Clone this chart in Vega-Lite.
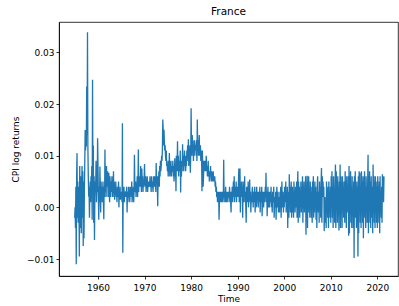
{
"$schema":"https://vega.github.io/schema/vega-lite/v6.json",
"width":339,"height":254,
"autosize":{"type":"none"},
"padding":{"left":59,"top":22,"right":1,"bottom":30},
"title":{"text":"France","fontSize":10.5,"fontWeight":"normal","font":"DejaVu Sans","color":"#000","offset":5,"anchor":"middle"},
"config":{"view":{"stroke":"#000","strokeWidth":0.8},"font":"DejaVu Sans"},
"data":{"values":[
{"t":1955,"v":-0.002},{"t":1955.08,"v":0.000},{"t":1955.17,"v":-0.004},{"t":1955.25,"v":0.004},{"t":1955.33,"v":-0.011},{"t":1955.42,"v":0.006},{"t":1955.5,"v":0.0105},{"t":1955.58,"v":-0.002},{"t":1955.67,"v":0.005},{"t":1955.75,"v":-0.003},{"t":1955.83,"v":0.004},{"t":1955.92,"v":0.001},
{"t":1956,"v":-0.0095},{"t":1956.08,"v":0.008},{"t":1956.17,"v":-0.004},{"t":1956.25,"v":0.006},{"t":1956.33,"v":0.003},{"t":1956.42,"v":-0.005},{"t":1956.5,"v":0.004},{"t":1956.58,"v":0.008},{"t":1956.67,"v":-0.002},{"t":1956.75,"v":0.007},{"t":1956.83,"v":-0.0075},{"t":1956.92,"v":0.005},
{"t":1957,"v":-0.006},{"t":1957.08,"v":0.003},{"t":1957.17,"v":0.009},{"t":1957.25,"v":0.015},{"t":1957.33,"v":0.011},{"t":1957.42,"v":0.013},{"t":1957.5,"v":0.0118},{"t":1957.58,"v":0.0234},{"t":1957.67,"v":0.014},{"t":1957.75,"v":0.0339},{"t":1957.83,"v":0.012},{"t":1957.92,"v":0.006},
{"t":1958,"v":0.0021},{"t":1958.08,"v":0.004},{"t":1958.17,"v":-0.002},{"t":1958.25,"v":0.003},{"t":1958.33,"v":0.005},{"t":1958.42,"v":0.001},{"t":1958.5,"v":0.006},{"t":1958.58,"v":0.002},{"t":1958.67,"v":0.008},{"t":1958.75,"v":-0.0024},{"t":1958.83,"v":0.0247},{"t":1958.92,"v":0.004},
{"t":1959,"v":0.012},{"t":1959.08,"v":-0.003},{"t":1959.17,"v":0.006},{"t":1959.25,"v":-0.0063},{"t":1959.33,"v":0.002},{"t":1959.42,"v":0.005},{"t":1959.5,"v":0.003},{"t":1959.58,"v":0.009},{"t":1959.67,"v":0.001},{"t":1959.75,"v":0.004},{"t":1959.83,"v":0.003},{"t":1959.92,"v":0.0134},
{"t":1960,"v":0.0084},{"t":1960.08,"v":0.002},{"t":1960.17,"v":-0.0024},{"t":1960.25,"v":0.004},{"t":1960.33,"v":0.001},{"t":1960.42,"v":0.0079},{"t":1960.5,"v":0.003},{"t":1960.58,"v":-0.001},{"t":1960.67,"v":0.005},{"t":1960.75,"v":0.002},{"t":1960.83,"v":0.004},{"t":1960.92,"v":0.001},
{"t":1961,"v":0.003},{"t":1961.08,"v":0.005},{"t":1961.17,"v":0.001},{"t":1961.25,"v":-0.0023},{"t":1961.33,"v":0.004},{"t":1961.42,"v":0.002},{"t":1961.5,"v":0.0112},{"t":1961.58,"v":0.003},{"t":1961.67,"v":0.006},{"t":1961.75,"v":0.002},{"t":1961.83,"v":0.008},{"t":1961.92,"v":0.004},
{"t":1962,"v":0.005},{"t":1962.08,"v":0.007},{"t":1962.17,"v":0.002},{"t":1962.25,"v":0.004},{"t":1962.33,"v":0.0067},{"t":1962.42,"v":0.003},{"t":1962.5,"v":0.001},{"t":1962.58,"v":0.006},{"t":1962.67,"v":0.002},{"t":1962.75,"v":0.005},{"t":1962.83,"v":0.003},{"t":1962.92,"v":0.004},
{"t":1963,"v":0.006},{"t":1963.08,"v":0.002},{"t":1963.17,"v":0.004},{"t":1963.25,"v":0.003},{"t":1963.33,"v":0.007},{"t":1963.42,"v":0.002},{"t":1963.5,"v":0.005},{"t":1963.58,"v":0.0015},{"t":1963.67,"v":0.004},{"t":1963.75,"v":0.003},{"t":1963.83,"v":0.005},{"t":1963.92,"v":0.002},
{"t":1964,"v":0.003},{"t":1964.08,"v":0.001},{"t":1964.17,"v":0.004},{"t":1964.25,"v":0.002},{"t":1964.33,"v":0.003},{"t":1964.42,"v":0.005},{"t":1964.5,"v":0.0},{"t":1964.58,"v":0.003},{"t":1964.67,"v":0.002},{"t":1964.75,"v":0.004},{"t":1964.83,"v":0.0015},{"t":1964.92,"v":0.003},
{"t":1965,"v":0.002},{"t":1965.08,"v":0.003},{"t":1965.17,"v":0.001},{"t":1965.25,"v":0.0163},{"t":1965.33,"v":-0.0088},{"t":1965.42,"v":0.003},{"t":1965.5,"v":0.002},{"t":1965.58,"v":0.004},{"t":1965.67,"v":0.001},{"t":1965.75,"v":0.003},{"t":1965.83,"v":0.002},{"t":1965.92,"v":0.003},
{"t":1966,"v":0.003},{"t":1966.08,"v":0.002},{"t":1966.17,"v":0.004},{"t":1966.25,"v":-0.001},{"t":1966.33,"v":0.003},{"t":1966.42,"v":0.001},{"t":1966.5,"v":0.002},{"t":1966.58,"v":0.004},{"t":1966.67,"v":0.002},{"t":1966.75,"v":0.003},{"t":1966.83,"v":0.001},{"t":1966.92,"v":0.004},
{"t":1967,"v":0.003},{"t":1967.08,"v":0.004},{"t":1967.17,"v":0.002},{"t":1967.25,"v":0.005},{"t":1967.33,"v":0.001},{"t":1967.42,"v":0.003},{"t":1967.5,"v":0.002},{"t":1967.58,"v":0.004},{"t":1967.67,"v":0.001},{"t":1967.75,"v":0.003},{"t":1967.83,"v":0.0102},{"t":1967.92,"v":0.004},
{"t":1968,"v":0.003},{"t":1968.08,"v":0.005},{"t":1968.17,"v":0.002},{"t":1968.25,"v":0.004},{"t":1968.33,"v":0.003},{"t":1968.42,"v":0.006},{"t":1968.5,"v":0.002},{"t":1968.58,"v":0.004},{"t":1968.67,"v":0.0112},{"t":1968.75,"v":0.003},{"t":1968.83,"v":0.006},{"t":1968.92,"v":0.004},
{"t":1969,"v":0.006},{"t":1969.08,"v":0.004},{"t":1969.17,"v":0.008},{"t":1969.25,"v":0.005},{"t":1969.33,"v":0.003},{"t":1969.42,"v":0.0075},{"t":1969.5,"v":0.004},{"t":1969.58,"v":0.006},{"t":1969.67,"v":0.003},{"t":1969.75,"v":0.005},{"t":1969.83,"v":0.004},{"t":1969.92,"v":0.006},
{"t":1970,"v":0.0084},{"t":1970.08,"v":0.005},{"t":1970.17,"v":0.004},{"t":1970.25,"v":0.006},{"t":1970.33,"v":0.003},{"t":1970.42,"v":0.005},{"t":1970.5,"v":0.004},{"t":1970.58,"v":0.006},{"t":1970.67,"v":0.003},{"t":1970.75,"v":0.005},{"t":1970.83,"v":0.004},{"t":1970.92,"v":0.004},
{"t":1971,"v":0.005},{"t":1971.08,"v":0.004},{"t":1971.17,"v":0.006},{"t":1971.25,"v":0.004},{"t":1971.33,"v":0.005},{"t":1971.42,"v":0.003},{"t":1971.5,"v":0.006},{"t":1971.58,"v":0.004},{"t":1971.67,"v":0.005},{"t":1971.75,"v":0.004},{"t":1971.83,"v":0.003},{"t":1971.92,"v":0.006},
{"t":1972,"v":0.004},{"t":1972.08,"v":0.005},{"t":1972.17,"v":0.006},{"t":1972.25,"v":0.004},{"t":1972.33,"v":0.005},{"t":1972.42,"v":0.003},{"t":1972.5,"v":0.0086},{"t":1972.58,"v":0.005},{"t":1972.67,"v":0.006},{"t":1972.75,"v":0.004},{"t":1972.83,"v":0.0002},{"t":1972.92,"v":0.006},
{"t":1973,"v":0.005},{"t":1973.08,"v":0.007},{"t":1973.17,"v":0.004},{"t":1973.25,"v":0.008},{"t":1973.33,"v":0.006},{"t":1973.42,"v":0.009},{"t":1973.5,"v":0.007},{"t":1973.58,"v":0.008},{"t":1973.67,"v":0.010},{"t":1973.75,"v":0.009},{"t":1973.83,"v":0.011},{"t":1973.92,"v":0.017},
{"t":1974,"v":0.015},{"t":1974.08,"v":0.012},{"t":1974.17,"v":0.015},{"t":1974.25,"v":0.013},{"t":1974.33,"v":0.011},{"t":1974.42,"v":0.012},{"t":1974.5,"v":0.010},{"t":1974.58,"v":0.009},{"t":1974.67,"v":0.011},{"t":1974.75,"v":0.008},{"t":1974.83,"v":0.009},{"t":1974.92,"v":0.007},
{"t":1975,"v":0.008},{"t":1975.08,"v":0.006},{"t":1975.17,"v":0.009},{"t":1975.25,"v":0.007},{"t":1975.33,"v":0.0105},{"t":1975.42,"v":0.006},{"t":1975.5,"v":0.008},{"t":1975.58,"v":0.007},{"t":1975.67,"v":0.009},{"t":1975.75,"v":0.006},{"t":1975.83,"v":0.008},{"t":1975.92,"v":0.007},
{"t":1976,"v":0.007},{"t":1976.08,"v":0.009},{"t":1976.17,"v":0.006},{"t":1976.25,"v":0.008},{"t":1976.33,"v":0.005},{"t":1976.42,"v":0.007},{"t":1976.5,"v":0.0095},{"t":1976.58,"v":0.006},{"t":1976.67,"v":0.008},{"t":1976.75,"v":0.0031},{"t":1976.83,"v":0.010},{"t":1976.92,"v":0.007},
{"t":1977,"v":0.008},{"t":1977.08,"v":0.0128},{"t":1977.17,"v":0.007},{"t":1977.25,"v":0.010},{"t":1977.33,"v":0.006},{"t":1977.42,"v":0.009},{"t":1977.5,"v":0.007},{"t":1977.58,"v":0.008},{"t":1977.67,"v":0.011},{"t":1977.75,"v":0.0029},{"t":1977.83,"v":0.009},{"t":1977.92,"v":0.006},
{"t":1978,"v":0.009},{"t":1978.08,"v":0.007},{"t":1978.17,"v":0.0122},{"t":1978.25,"v":0.008},{"t":1978.33,"v":0.010},{"t":1978.42,"v":0.007},{"t":1978.5,"v":0.009},{"t":1978.58,"v":0.011},{"t":1978.67,"v":0.008},{"t":1978.75,"v":0.010},{"t":1978.83,"v":0.007},{"t":1978.92,"v":0.009},
{"t":1979,"v":0.008},{"t":1979.08,"v":0.011},{"t":1979.17,"v":0.009},{"t":1979.25,"v":0.012},{"t":1979.33,"v":0.010},{"t":1979.42,"v":0.0132},{"t":1979.5,"v":0.008},{"t":1979.58,"v":0.011},{"t":1979.67,"v":0.009},{"t":1979.75,"v":0.012},{"t":1979.83,"v":0.0067},{"t":1979.92,"v":0.010},
{"t":1980,"v":0.0192},{"t":1980.08,"v":0.012},{"t":1980.17,"v":0.010},{"t":1980.25,"v":0.014},{"t":1980.33,"v":0.011},{"t":1980.42,"v":0.013},{"t":1980.5,"v":0.009},{"t":1980.58,"v":0.012},{"t":1980.67,"v":0.010},{"t":1980.75,"v":0.013},{"t":1980.83,"v":0.011},{"t":1980.92,"v":0.012},
{"t":1981,"v":0.012},{"t":1981.08,"v":0.010},{"t":1981.17,"v":0.013},{"t":1981.25,"v":0.009},{"t":1981.33,"v":0.017},{"t":1981.42,"v":0.011},{"t":1981.5,"v":0.013},{"t":1981.58,"v":0.010},{"t":1981.67,"v":0.012},{"t":1981.75,"v":0.014},{"t":1981.83,"v":0.010},{"t":1981.92,"v":0.011},
{"t":1982,"v":0.012},{"t":1982.08,"v":0.009},{"t":1982.17,"v":0.011},{"t":1982.25,"v":0.010},{"t":1982.33,"v":0.0031},{"t":1982.42,"v":0.011},{"t":1982.5,"v":0.008},{"t":1982.58,"v":0.004},{"t":1982.67,"v":0.006},{"t":1982.75,"v":0.009},{"t":1982.83,"v":0.007},{"t":1982.92,"v":0.008},
{"t":1983,"v":0.009},{"t":1983.08,"v":0.007},{"t":1983.17,"v":0.008},{"t":1983.25,"v":0.010},{"t":1983.33,"v":0.007},{"t":1983.42,"v":0.008},{"t":1983.5,"v":0.006},{"t":1983.58,"v":0.007},{"t":1983.67,"v":0.009},{"t":1983.75,"v":0.006},{"t":1983.83,"v":0.007},{"t":1983.92,"v":0.005},
{"t":1984,"v":0.007},{"t":1984.08,"v":0.006},{"t":1984.17,"v":0.008},{"t":1984.25,"v":0.006},{"t":1984.33,"v":0.005},{"t":1984.42,"v":0.007},{"t":1984.5,"v":0.006},{"t":1984.58,"v":0.005},{"t":1984.67,"v":0.006},{"t":1984.75,"v":0.007},{"t":1984.83,"v":0.005},{"t":1984.92,"v":0.006},
{"t":1985,"v":0.005},{"t":1985.08,"v":0.006},{"t":1985.17,"v":0.004},{"t":1985.25,"v":0.005},{"t":1985.33,"v":0.003},{"t":1985.42,"v":0.004},{"t":1985.5,"v":0.002},{"t":1985.58,"v":0.003},{"t":1985.67,"v":0.001},{"t":1985.75,"v":0.003},{"t":1985.83,"v":0.002},{"t":1985.92,"v":0.003},
{"t":1986,"v":-0.0024},{"t":1986.08,"v":0.001},{"t":1986.17,"v":0.003},{"t":1986.25,"v":0.002},{"t":1986.33,"v":0.001},{"t":1986.42,"v":0.003},{"t":1986.5,"v":0.002},{"t":1986.58,"v":0.001},{"t":1986.67,"v":0.003},{"t":1986.75,"v":0.002},{"t":1986.83,"v":0.001},{"t":1986.92,"v":0.002},
{"t":1987,"v":0.0092},{"t":1987.08,"v":0.002},{"t":1987.17,"v":0.003},{"t":1987.25,"v":0.001},{"t":1987.33,"v":0.002},{"t":1987.42,"v":0.004},{"t":1987.5,"v":0.001},{"t":1987.58,"v":0.003},{"t":1987.67,"v":0.002},{"t":1987.75,"v":0.001},{"t":1987.83,"v":0.003},{"t":1987.92,"v":0.002},
{"t":1988,"v":0.002},{"t":1988.08,"v":0.003},{"t":1988.17,"v":0.001},{"t":1988.25,"v":0.004},{"t":1988.33,"v":0.002},{"t":1988.42,"v":0.003},{"t":1988.5,"v":0.001},{"t":1988.58,"v":-0.001},{"t":1988.67,"v":0.003},{"t":1988.75,"v":0.002},{"t":1988.83,"v":0.004},{"t":1988.92,"v":0.001},
{"t":1989,"v":0.003},{"t":1989.08,"v":0.005},{"t":1989.17,"v":0.002},{"t":1989.25,"v":0.006},{"t":1989.33,"v":0.001},{"t":1989.42,"v":0.004},{"t":1989.5,"v":0.003},{"t":1989.58,"v":0.002},{"t":1989.67,"v":0.005},{"t":1989.75,"v":0.001},{"t":1989.83,"v":0.004},{"t":1989.92,"v":0.003},
{"t":1990,"v":0.004},{"t":1990.08,"v":0.002},{"t":1990.17,"v":0.005},{"t":1990.25,"v":0.0075},{"t":1990.33,"v":0.001},{"t":1990.42,"v":0.003},{"t":1990.5,"v":0.0075},{"t":1990.58,"v":-0.001},{"t":1990.67,"v":0.004},{"t":1990.75,"v":0.002},{"t":1990.83,"v":0.005},{"t":1990.92,"v":0.002},
{"t":1991,"v":0.003},{"t":1991.08,"v":-0.002},{"t":1991.17,"v":0.005},{"t":1991.25,"v":0.001},{"t":1991.33,"v":0.004},{"t":1991.42,"v":0.002},{"t":1991.5,"v":0.006},{"t":1991.58,"v":0.001},{"t":1991.67,"v":0.003},{"t":1991.75,"v":0.0},{"t":1991.83,"v":-0.003},{"t":1991.92,"v":0.004},
{"t":1992,"v":0.002},{"t":1992.08,"v":0.004},{"t":1992.17,"v":0.001},{"t":1992.25,"v":0.005},{"t":1992.33,"v":0.0},{"t":1992.42,"v":0.003},{"t":1992.5,"v":0.002},{"t":1992.58,"v":0.0054},{"t":1992.67,"v":0.001},{"t":1992.75,"v":0.003},{"t":1992.83,"v":-0.001},{"t":1992.92,"v":0.002},
{"t":1993,"v":0.001},{"t":1993.08,"v":0.003},{"t":1993.17,"v":0.004},{"t":1993.25,"v":0.002},{"t":1993.33,"v":0.0},{"t":1993.42,"v":0.003},{"t":1993.5,"v":0.001},{"t":1993.58,"v":0.002},{"t":1993.67,"v":0.004},{"t":1993.75,"v":-0.001},{"t":1993.83,"v":0.002},{"t":1993.92,"v":0.003},
{"t":1994,"v":0.0},{"t":1994.08,"v":0.004},{"t":1994.17,"v":0.002},{"t":1994.25,"v":0.003},{"t":1994.33,"v":0.001},{"t":1994.42,"v":0.0},{"t":1994.5,"v":0.003},{"t":1994.58,"v":0.002},{"t":1994.67,"v":0.001},{"t":1994.75,"v":0.004},{"t":1994.83,"v":-0.001},{"t":1994.92,"v":0.002},
{"t":1995,"v":0.003},{"t":1995.08,"v":0.001},{"t":1995.17,"v":0.004},{"t":1995.25,"v":-0.0017},{"t":1995.33,"v":0.002},{"t":1995.42,"v":0.003},{"t":1995.5,"v":0.001},{"t":1995.58,"v":0.0},{"t":1995.67,"v":0.003},{"t":1995.75,"v":0.002},{"t":1995.83,"v":0.001},{"t":1995.92,"v":0.004},
{"t":1996,"v":0.002},{"t":1996.08,"v":0.0067},{"t":1996.17,"v":0.001},{"t":1996.25,"v":0.003},{"t":1996.33,"v":-0.0017},{"t":1996.42,"v":0.002},{"t":1996.5,"v":0.004},{"t":1996.58,"v":0.0},{"t":1996.67,"v":0.001},{"t":1996.75,"v":0.003},{"t":1996.83,"v":0.0},{"t":1996.92,"v":0.002},
{"t":1997,"v":0.003},{"t":1997.08,"v":0.001},{"t":1997.17,"v":0.004},{"t":1997.25,"v":0.0},{"t":1997.33,"v":0.002},{"t":1997.42,"v":-0.001},{"t":1997.5,"v":0.003},{"t":1997.58,"v":0.001},{"t":1997.67,"v":0.002},{"t":1997.75,"v":0.004},{"t":1997.83,"v":-0.002},{"t":1997.92,"v":0.001},
{"t":1998,"v":0.002},{"t":1998.08,"v":0.0},{"t":1998.17,"v":0.003},{"t":1998.25,"v":-0.0024},{"t":1998.33,"v":0.002},{"t":1998.42,"v":0.004},{"t":1998.5,"v":0.0},{"t":1998.58,"v":0.001},{"t":1998.67,"v":0.003},{"t":1998.75,"v":-0.001},{"t":1998.83,"v":0.002},{"t":1998.92,"v":0.001},
{"t":1999,"v":-0.001},{"t":1999.08,"v":0.003},{"t":1999.17,"v":0.001},{"t":1999.25,"v":0.004},{"t":1999.33,"v":-0.002},{"t":1999.42,"v":0.002},{"t":1999.5,"v":0.005},{"t":1999.58,"v":0.0},{"t":1999.67,"v":0.001},{"t":1999.75,"v":0.003},{"t":1999.83,"v":-0.001},{"t":1999.92,"v":0.002},
{"t":2000,"v":0.0},{"t":2000.08,"v":0.004},{"t":2000.17,"v":0.002},{"t":2000.25,"v":0.001},{"t":2000.33,"v":0.005},{"t":2000.42,"v":-0.001},{"t":2000.5,"v":0.003},{"t":2000.58,"v":0.0},{"t":2000.67,"v":0.004},{"t":2000.75,"v":-0.004},{"t":2000.83,"v":0.002},{"t":2000.92,"v":0.003},
{"t":2001,"v":-0.002},{"t":2001.08,"v":0.0064},{"t":2001.17,"v":0.001},{"t":2001.25,"v":0.004},{"t":2001.33,"v":-0.001},{"t":2001.42,"v":0.003},{"t":2001.5,"v":0.005},{"t":2001.58,"v":-0.002},{"t":2001.67,"v":0.002},{"t":2001.75,"v":0.004},{"t":2001.83,"v":-0.001},{"t":2001.92,"v":0.003},
{"t":2002,"v":-0.002},{"t":2002.08,"v":0.005},{"t":2002.17,"v":0.001},{"t":2002.25,"v":0.003},{"t":2002.33,"v":-0.001},{"t":2002.42,"v":0.004},{"t":2002.5,"v":0.0},{"t":2002.58,"v":0.002},{"t":2002.67,"v":0.005},{"t":2002.75,"v":-0.002},{"t":2002.83,"v":0.003},{"t":2002.92,"v":0.007},
{"t":2003,"v":-0.003},{"t":2003.08,"v":0.005},{"t":2003.17,"v":0.002},{"t":2003.25,"v":0.004},{"t":2003.33,"v":-0.002},{"t":2003.42,"v":0.003},{"t":2003.5,"v":0.001},{"t":2003.58,"v":0.005},{"t":2003.67,"v":-0.001},{"t":2003.75,"v":0.004},{"t":2003.83,"v":0.0},{"t":2003.92,"v":0.006},
{"t":2004,"v":-0.003},{"t":2004.08,"v":0.004},{"t":2004.17,"v":0.002},{"t":2004.25,"v":0.005},{"t":2004.33,"v":-0.001},{"t":2004.42,"v":0.003},{"t":2004.5,"v":0.0},{"t":2004.58,"v":0.006},{"t":2004.67,"v":-0.0053},{"t":2004.75,"v":0.004},{"t":2004.83,"v":0.002},{"t":2004.92,"v":0.0061},
{"t":2005,"v":-0.004},{"t":2005.08,"v":0.005},{"t":2005.17,"v":0.003},{"t":2005.25,"v":0.006},{"t":2005.33,"v":-0.001},{"t":2005.42,"v":0.002},{"t":2005.5,"v":-0.002},{"t":2005.58,"v":0.005},{"t":2005.67,"v":0.001},{"t":2005.75,"v":0.004},{"t":2005.83,"v":-0.002},{"t":2005.92,"v":0.003},
{"t":2006,"v":-0.003},{"t":2006.08,"v":0.005},{"t":2006.17,"v":0.002},{"t":2006.25,"v":0.006},{"t":2006.33,"v":-0.002},{"t":2006.42,"v":0.003},{"t":2006.5,"v":-0.001},{"t":2006.58,"v":0.005},{"t":2006.67,"v":0.0},{"t":2006.75,"v":0.004},{"t":2006.83,"v":-0.0024},{"t":2006.92,"v":0.003},
{"t":2007,"v":-0.004},{"t":2007.08,"v":0.004},{"t":2007.17,"v":0.006},{"t":2007.25,"v":0.002},{"t":2007.33,"v":-0.001},{"t":2007.42,"v":0.003},{"t":2007.5,"v":-0.003},{"t":2007.58,"v":0.005},{"t":2007.67,"v":0.001},{"t":2007.75,"v":0.004},{"t":2007.83,"v":-0.002},{"t":2007.92,"v":0.005},
{"t":2008,"v":0.0076},{"t":2008.08,"v":-0.003},{"t":2008.17,"v":0.006},{"t":2008.25,"v":0.003},{"t":2008.33,"v":0.005},{"t":2008.42,"v":0.002},{"t":2008.5,"v":0.004},{"t":2008.58,"v":-0.0046},{"t":2008.67,"v":0.001},{"t":2008.75,"v":0.002},{"t":2008.83,"v":-0.003},{"t":2008.92,"v":0.001},
{"t":2009,"v":-0.004},{"t":2009.08,"v":0.005},{"t":2009.17,"v":0.002},{"t":2009.25,"v":0.003},{"t":2009.33,"v":-0.002},{"t":2009.42,"v":0.004},{"t":2009.5,"v":-0.004},{"t":2009.58,"v":0.005},{"t":2009.67,"v":0.0},{"t":2009.75,"v":0.003},{"t":2009.83,"v":-0.002},{"t":2009.92,"v":0.004},
{"t":2010,"v":-0.003},{"t":2010.08,"v":0.006},{"t":2010.17,"v":0.002},{"t":2010.25,"v":0.007},{"t":2010.33,"v":-0.002},{"t":2010.42,"v":0.004},{"t":2010.5,"v":-0.004},{"t":2010.58,"v":0.006},{"t":2010.67,"v":0.001},{"t":2010.75,"v":0.003},{"t":2010.83,"v":-0.003},{"t":2010.92,"v":0.005},
{"t":2011,"v":0.0083},{"t":2011.08,"v":-0.004},{"t":2011.17,"v":0.007},{"t":2011.25,"v":0.002},{"t":2011.33,"v":0.005},{"t":2011.42,"v":-0.003},{"t":2011.5,"v":0.006},{"t":2011.58,"v":0.0},{"t":2011.67,"v":0.004},{"t":2011.75,"v":-0.0045},{"t":2011.83,"v":0.005},{"t":2011.92,"v":0.002},
{"t":2012,"v":0.0083},{"t":2012.08,"v":-0.004},{"t":2012.17,"v":0.006},{"t":2012.25,"v":0.001},{"t":2012.33,"v":0.005},{"t":2012.42,"v":-0.004},{"t":2012.5,"v":0.006},{"t":2012.58,"v":0.0},{"t":2012.67,"v":0.004},{"t":2012.75,"v":-0.002},{"t":2012.83,"v":0.005},{"t":2012.92,"v":0.001},
{"t":2013,"v":-0.003},{"t":2013.08,"v":0.007},{"t":2013.17,"v":0.002},{"t":2013.25,"v":0.005},{"t":2013.33,"v":-0.004},{"t":2013.42,"v":0.006},{"t":2013.5,"v":-0.001},{"t":2013.58,"v":0.004},{"t":2013.67,"v":0.0},{"t":2013.75,"v":0.006},{"t":2013.83,"v":-0.0055},{"t":2013.92,"v":0.008},
{"t":2014,"v":-0.005},{"t":2014.08,"v":0.006},{"t":2014.17,"v":0.001},{"t":2014.25,"v":0.007},{"t":2014.33,"v":-0.003},{"t":2014.42,"v":0.004},{"t":2014.5,"v":-0.004},{"t":2014.58,"v":0.006},{"t":2014.67,"v":0.0},{"t":2014.75,"v":0.003},{"t":2014.83,"v":-0.004},{"t":2014.92,"v":0.005},
{"t":2015,"v":-0.0098},{"t":2015.08,"v":0.006},{"t":2015.17,"v":0.003},{"t":2015.25,"v":0.007},{"t":2015.33,"v":-0.002},{"t":2015.42,"v":0.004},{"t":2015.5,"v":-0.004},{"t":2015.58,"v":0.005},{"t":2015.67,"v":0.001},{"t":2015.75,"v":0.004},{"t":2015.83,"v":-0.0095},{"t":2015.92,"v":0.006},
{"t":2016,"v":-0.005},{"t":2016.08,"v":0.007},{"t":2016.17,"v":0.002},{"t":2016.25,"v":0.0067},{"t":2016.33,"v":-0.003},{"t":2016.42,"v":0.004},{"t":2016.5,"v":-0.004},{"t":2016.58,"v":0.007},{"t":2016.67,"v":0.0},{"t":2016.75,"v":0.005},{"t":2016.83,"v":-0.003},{"t":2016.92,"v":0.006},
{"t":2017,"v":-0.006},{"t":2017.08,"v":0.005},{"t":2017.17,"v":0.003},{"t":2017.25,"v":0.007},{"t":2017.33,"v":-0.002},{"t":2017.42,"v":0.003},{"t":2017.5,"v":-0.004},{"t":2017.58,"v":0.006},{"t":2017.67,"v":0.001},{"t":2017.75,"v":0.004},{"t":2017.83,"v":-0.003},{"t":2017.92,"v":0.005},
{"t":2018,"v":0.0102},{"t":2018.08,"v":-0.005},{"t":2018.17,"v":0.006},{"t":2018.25,"v":0.002},{"t":2018.33,"v":0.007},{"t":2018.42,"v":-0.003},{"t":2018.5,"v":0.005},{"t":2018.58,"v":-0.004},{"t":2018.67,"v":0.006},{"t":2018.75,"v":0.001},{"t":2018.83,"v":-0.002},{"t":2018.92,"v":0.004},
{"t":2019,"v":-0.005},{"t":2019.08,"v":0.0083},{"t":2019.17,"v":0.002},{"t":2019.25,"v":0.006},{"t":2019.33,"v":-0.003},{"t":2019.42,"v":0.005},{"t":2019.5,"v":-0.004},{"t":2019.58,"v":0.006},{"t":2019.67,"v":0.0},{"t":2019.75,"v":0.004},{"t":2019.83,"v":-0.003},{"t":2019.92,"v":0.005},
{"t":2020,"v":-0.004},{"t":2020.08,"v":0.006},{"t":2020.17,"v":0.001},{"t":2020.25,"v":0.004},{"t":2020.33,"v":-0.003},{"t":2020.42,"v":0.005},{"t":2020.5,"v":-0.005},{"t":2020.58,"v":0.006},{"t":2020.67,"v":-0.001},{"t":2020.75,"v":0.003},{"t":2020.83,"v":-0.002},{"t":2020.92,"v":0.004},
{"t":2021,"v":-0.003},{"t":2021.08,"v":0.0064},{"t":2021.17,"v":0.002},{"t":2021.25,"v":0.006},{"t":2021.33,"v":0.001},{"t":2021.42,"v":0.006}
]},
"mark":{"type":"line","color":"#1f77b4","strokeWidth":1.3,"clip":true},
"encoding":{
"x":{"field":"t","type":"quantitative","title":"Time","scale":{"domain":[1951.63,2024.43],"nice":false,"zero":false},
"axis":{"values":[1960,1970,1980,1990,2000,2010,2020],"format":"d","grid":false,"domainColor":"#000","domainWidth":0.8,"tickColor":"#000","tickWidth":0.8,"tickSize":3,"labelFontSize":9,"labelColor":"#000","labelPadding":4,"titleFontSize":9,"titleFontWeight":"normal","titleColor":"#000","titlePadding":2,"labelFont":"DejaVu Sans","titleFont":"DejaVu Sans"}},
"y":{"field":"v","type":"quantitative","title":"CPI log returns","scale":{"domain":[-0.01329,0.03589],"nice":false,"zero":false},
"axis":{"values":[-0.01,0,0.01,0.02,0.03],"format":".2f","grid":false,"domainColor":"#000","domainWidth":0.8,"tickColor":"#000","tickWidth":0.8,"tickSize":3,"labelFontSize":9,"labelColor":"#000","labelPadding":2,"titleFontSize":9,"titleFontWeight":"normal","titleColor":"#000","titlePadding":6,"labelFont":"DejaVu Sans","titleFont":"DejaVu Sans"}}
}
}
